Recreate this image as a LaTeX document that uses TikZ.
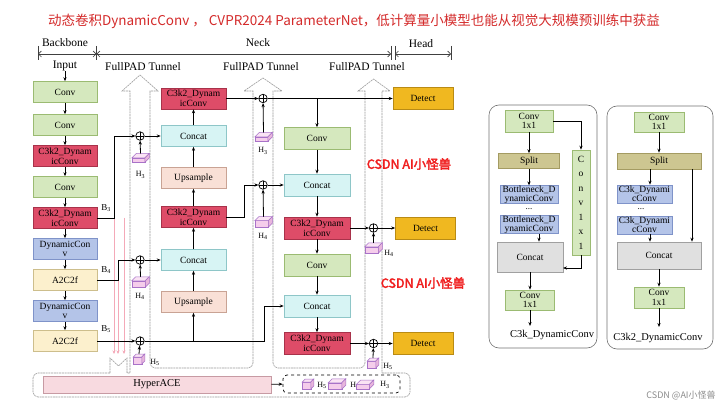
\documentclass[tikz,border=0pt]{standalone}
\usepackage{fontspec}
\setmainfont{Liberation Serif}
\newfontfamily\cjk[AutoFakeBold=2.5]{Noto Sans CJK SC}
\usetikzlibrary{arrows.meta}

\definecolor{convF}{HTML}{D5E8BE}
\definecolor{convD}{HTML}{9BBB72}
\definecolor{redF}{HTML}{DE4C68}
\definecolor{redD}{HTML}{A8324A}
\definecolor{bluF}{HTML}{B4C4E8}
\definecolor{bluD}{HTML}{7F93C9}
\definecolor{yelF}{HTML}{FCF0CD}
\definecolor{yelD}{HTML}{CDBE8C}
\definecolor{cyaF}{HTML}{D7F4F4}
\definecolor{cyaD}{HTML}{8EC6C8}
\definecolor{upsF}{HTML}{F9E0D6}
\definecolor{upsD}{HTML}{C9A394}
\definecolor{detF}{HTML}{F0B820}
\definecolor{detD}{HTML}{B98B14}
\definecolor{splF}{HTML}{CDC691}
\definecolor{splD}{HTML}{A49B62}
\definecolor{gryF}{HTML}{E0E0E0}
\definecolor{gryD}{HTML}{A0A0A0}
\definecolor{hypF}{HTML}{F8DAE0}
\definecolor{hypD}{HTML}{C79AA3}
\definecolor{cubF}{HTML}{F5CDEB}
\definecolor{cubT}{HTML}{FAE3F4}
\definecolor{cubR}{HTML}{E8B6DC}
\definecolor{cubD}{HTML}{A872C8}
\definecolor{titR}{HTML}{D42A2A}
\definecolor{wmR}{HTML}{F01E1E}
\definecolor{pinkL}{HTML}{F4A9B8}
\definecolor{tunG}{HTML}{9A9A9A}

\tikzset{
  bx/.style={draw, line width=0.6pt, inner sep=0pt, align=center, font=\fontsize{9.5}{9.6}\selectfont, minimum height=21pt},
  bbw/.style={bx, minimum width=64pt},
  nkw/.style={bx, minimum width=65pt},
  ctw/.style={bx, minimum width=66pt, minimum height=22pt},
  convbox/.style={fill=convF, draw=convD},
  redbox/.style={fill=redF, draw=redD},
  blubox/.style={fill=bluF, draw=bluD},
  yelbox/.style={fill=yelF, draw=yelD},
  cyabox/.style={fill=cyaF, draw=cyaD},
  upsbox/.style={fill=upsF, draw=upsD},
  detbox/.style={bx, fill=detF, draw=detD, minimum width=60pt, minimum height=22pt},
  splbox/.style={fill=splF, draw=splD},
  grybox/.style={fill=gryF, draw=gryD},
  arr/.style={line width=0.8pt, -{Stealth[length=4pt,width=3.2pt]}},
  pkarr/.style={draw=pinkL, line width=0.7pt, -{Stealth[length=3.5pt,width=3pt]}},
  opl/.style={circle, draw, line width=0.7pt, minimum size=8.5pt, inner sep=0pt,
    path picture={\draw[line width=0.6pt] (path picture bounding box.north) -- (path picture bounding box.south) (path picture bounding box.west) -- (path picture bounding box.east);}},
  hlab/.style={font=\fontsize{8}{8}\selectfont, inner sep=0pt},
  blab/.style={font=\fontsize{9}{9}\selectfont, inner sep=0pt},
  tun/.style={draw=tunG, line width=0.6pt, dash pattern=on 2pt off 0.7pt},
  cubS/.style={draw=cubD, line width=0.5pt, fill=cubF},
  hdr/.style={font=\fontsize{11.5}{12}\selectfont, inner sep=0pt},
  hline/.style={draw=black!75, line width=0.6pt, {Straight Barb[length=3pt,width=6pt]}-{Straight Barb[length=3pt,width=6pt]}},
  panel/.style={draw=black!55, line width=0.6pt, rounded corners=10pt},
  plab/.style={font=\fontsize{10.5}{11}\selectfont, inner sep=0pt},
}

\newcommand{\hcube}[6]{%
  \pgfmathsetmacro\hcX{#2-(#4+#6)/2}%
  \pgfmathsetmacro\hcY{#3+(#5+#6)/2}%
  \filldraw[cubS] (\hcX,\hcY) rectangle ++(#4,-#5);
  \filldraw[cubS,fill=cubT] (\hcX,\hcY-#5) -- ++(#6,-#6) -- ++(#4,0) -- ++(-#6,#6) -- cycle;
  \filldraw[cubS,fill=cubR] (\hcX+#4,\hcY) -- ++(0,-#5) -- ++(#6,-#6) -- ++(0,#5) -- cycle;
  \coordinate (#1) at (#2,\hcY-#5-#6);
}

\begin{document}
\begin{tikzpicture}[x=1pt,y=-1pt]
\useasboundingbox (0,0) rectangle (720,406);
\fill[white] (0,0) rectangle (720,406);

% title
\node[font=\cjk\fontsize{13.5}{14}\selectfont, text=titR, inner sep=0pt] (title) at (354,21) {动态卷积DynamicConv ， CVPR2024 ParameterNet，低计算量小模型也能从视觉大规模预训练中获益};

% header
\node[hdr] (hb) at (65,43) {Backbone};
\node[hdr] (hn) at (258,43) {Neck};
\node[hdr] (hh) at (421,44) {Head};
\coordinate (t1) at (38,54);
\coordinate (t2) at (96.5,54);
\coordinate (t3) at (391,54);
\coordinate (t4) at (395,54);
\coordinate (t5) at (451,54);
\draw[hline] (t1) -- (t2);
\draw[hline] (t2) -- (t3);
\draw[hline] (t4) -- (t5);
\foreach \p in {t1,t2,t3,t4,t5} \draw[black!75, line width=0.6pt] ([yshift=8pt]\p) -- ([yshift=-6pt]\p);

% tunnels and containers
\draw[tun] (110,373) -- (110,358) -- (118.5,366) -- (127,358) -- (127,373) -- (130,373) -- (130,91) -- (122,91) -- (140,75) -- (158,91) -- (150,91) -- (150,300);
\draw[tun, rounded corners=5pt] (150,300) -- (150,368) -- (253,368) -- (253,300);
\draw[tun] (253,300) -- (253,91) -- (244,91) -- (263,78) -- (282,91) -- (273,91) -- (273,300);
\draw[tun, rounded corners=5pt] (273,300) -- (273,368) -- (365,368) -- (365,300);
\draw[tun] (365,300) -- (365,91) -- (358,91) -- (373.5,79) -- (390,91) -- (382,91) -- (382,373);
\draw[tun, rounded corners=5pt] (382,373) -- (410,373) -- (410,397) -- (33,397) -- (33,373) -- (110,373);

\node[hdr] (fp1) at (143,67) {FullPAD Tunnel};
\node[hdr] (fp2) at (261,67) {FullPAD Tunnel};
\node[hdr] (fp3) at (367,67) {FullPAD Tunnel};

% backbone
\node[hdr] (inp) at (65,66) {Input};
\node[bbw,convbox] (b1) at (65,92) {Conv};
\node[bbw,convbox] (b2) at (65,125) {Conv};
\node[bbw,redbox] (b3) at (65,156) {C3k2\_Dynam\\icConv};
\node[bbw,convbox] (b4) at (65,187) {Conv};
\node[bbw,redbox] (b5) at (65,218) {C3k2\_Dynam\\icConv};
\node[bbw,blubox] (b6) at (65,249) {DynamicCon\\v};
\node[bbw,yelbox] (b7) at (65,280) {A2C2f};
\node[bbw,blubox] (b8) at (65,311) {DynamicCon\\v};
\node[bbw,yelbox] (b9) at (65,341) {A2C2f};
\foreach \xa/\xb in {inp/b1,b1/b2,b2/b3,b3/b4,b4/b5,b5/b6,b6/b7,b7/b8,b8/b9} \draw[arr] (\xa) -- (\xb);

% neck column 1
\node[nkw,redbox] (n1) at (193.5,98.5) {C3k2\_Dynam\\icConv};
\node[nkw,cyabox] (n2) at (193.5,136) {Concat};
\node[nkw,upsbox] (n3) at (193.5,178) {Upsample};
\node[nkw,redbox] (n4) at (193.5,217) {C3k2\_Dynam\\icConv};
\node[nkw,cyabox] (n5) at (193.5,260) {Concat};
\node[nkw,upsbox] (n6) at (193.5,302) {Upsample};

% neck column 2
\node[ctw,convbox] (m1) at (317,138.5) {Conv};
\node[ctw,cyabox] (m2) at (317,185) {Concat};
\node[ctw,redbox] (m3) at (317,228) {C3k2\_Dynam\\icConv};
\node[ctw,convbox] (m4) at (317,265) {Conv};
\node[ctw,cyabox] (m5) at (317,306) {Concat};
\node[ctw,redbox] (m6) at (317,343.5) {C3k2\_Dynam\\icConv};

% heads
\node[detbox] (d1) at (423,98.5) {Detect};
\node[detbox] (d2) at (425.5,228) {Detect};
\node[detbox] (d3) at (423,343.5) {Detect};

% fusion points
\node[opl] (pa) at (140,136) {};
\node[opl] (pb) at (140,260) {};
\node[opl] (pc) at (140,341) {};
\node[opl] (pd) at (263,98.5) {};
\node[opl] (pe) at (263,185) {};
\node[opl] (pf) at (373.5,228) {};
\node[opl] (pg) at (373.5,343.5) {};

% pink lines into HyperACE
\coordinate (b3c) at (114,218);
\coordinate (b4c) at (118,280);
\coordinate (pk3s) at (124,218);
\coordinate (pk1e) at (114,354);
\coordinate (pk2e) at (118,354);
\coordinate (pk3e) at (124,354);
\draw[pkarr] (b3c) -- (pk1e);
\draw[pkarr] (b4c) -- (pk2e);
\draw[pkarr] (pk3s) -- (pk3e);

% connectors
\draw[arr] (b5.east) -- (b3c) |- (pa);
\draw[arr] (b7.east) -- (b4c) |- (pb);
\draw[arr] (b9.east) -- (pc);
\node[blab] (lb3) at (106,208) {B\textsubscript{3}};
\node[blab] (lb4) at (106,270) {B\textsubscript{4}};
\node[blab] (lb5) at (106,329) {B\textsubscript{5}};
\draw[arr] (pa) -- (n2);
\draw[arr] (pb) -- (n5);
\coordinate (k1) at (264,341);
\draw[arr] (pc) -- (k1) |- (m5);
\coordinate (k2) at (193.5,341);
\draw[arr] (k2) -- (n6);
\foreach \xa/\xb in {n6/n5,n5/n4,n4/n3,n3/n2,n2/n1} \draw[arr] (\xa) -- (\xb);
\draw[arr] (n1) -- (pd);
\draw[arr] (pd) -- (d1);
\coordinate (k3) at (317,98.5);
\draw[arr] (k3) -- (m1);
\coordinate (k4) at (244,217);
\draw[arr] (n4) -- (k4) |- (pe);
\draw[arr] (pe) -- (m2);
\foreach \xa/\xb in {m1/m2,m2/m3,m3/m4,m4/m5,m5/m6} \draw[arr] (\xa) -- (\xb);
\draw[arr] (m3) -- (pf);
\draw[arr] (pf) -- (d2);
\draw[arr] (m6) -- (pg);
\draw[arr] (pg) -- (d3);

% feature cubes
\hcube{c1}{140.5}{158}{13}{4.5}{4.5}
\node[hlab] (h1) at (140.5,175) {H\textsubscript{3}};
\draw[arr] (c1) -- (pa);
\hcube{c2}{140.5}{282}{13.5}{6.5}{4}
\node[hlab] (h2) at (140,296) {H\textsubscript{4}};
\draw[arr] (c2) -- (pb);
\hcube{c3}{139}{359}{8.5}{7}{3}
\node[hlab] (h3) at (155,362) {H\textsubscript{5}};
\draw[arr] (c3) -- (pc);
\hcube{c4}{263.5}{137}{13}{4.5}{4.5}
\node[hlab] (h4) at (263,151) {H\textsubscript{3}};
\draw[arr] (c4) -- (pd);
\hcube{c5}{263.5}{222}{13.5}{6.5}{4}
\node[hlab] (h5) at (263,236) {H\textsubscript{4}};
\draw[arr] (c5) -- (pe);
\hcube{c6}{373.5}{248}{13.5}{6.5}{4}
\node[hlab] (h6) at (389,253) {H\textsubscript{4}};
\draw[arr] (c6) -- (pf);
\hcube{c7}{373}{363}{8.5}{7}{3}
\node[hlab] (h7) at (388,366) {H\textsubscript{5}};
\draw[arr] (c7) -- (pg);

% HyperACE
\node[bx, fill=hypF, draw=hypD, minimum width=228pt, minimum height=17pt, font=\fontsize{10.5}{11}\selectfont] (hyp) at (157,384.5) {HyperACE};
\node[draw, dashed, rounded corners=4pt, line width=0.7pt, minimum width=117pt, minimum height=18pt, inner sep=0pt] (hbox) at (341.5,384) {};
\draw[arr] (hyp) -- (hbox);
\hcube{c8}{308}{384}{8.5}{7}{3}
\node[hlab] (h8) at (322,385) {H\textsubscript{5}};
\hcube{c9}{337}{384}{13.5}{6.5}{4}
\node[hlab] (h9) at (355,385) {H\textsubscript{4}};
\hcube{c10}{365}{384.5}{13}{4.5}{4.5}
\node[hlab] (h10) at (385,385) {H\textsubscript{3}};

% watermarks
\node[font=\cjk\bfseries\fontsize{12.5}{13}\selectfont, text=wmR, inner sep=0pt] (wm1) at (409,164) {CSDN AI小怪兽};
\node[font=\cjk\bfseries\fontsize{12.5}{13}\selectfont, text=wmR, inner sep=0pt] (wm2) at (423,283) {CSDN AI小怪兽};
\node[font=\cjk\fontsize{9}{9}\selectfont, text=black!45, inner sep=0pt] (wm3) at (681,395) {CSDN @AI小怪兽};

% panel 1: C3k_DynamicConv
\draw[panel] (489,105) rectangle (597,348);
\node[bx,convbox, minimum width=48pt, minimum height=22pt] (p1a) at (529,121) {Conv\\1x1};
\node[bx,splbox, minimum width=61pt, minimum height=15pt] (p1s) at (529,161) {Split};
\node[bx,blubox, minimum width=58pt, minimum height=17pt, font=\fontsize{9.5}{9}\selectfont] (p1b1) at (529,194.5) {Bottleneck\_D\\ynamicConv};
\node[inner sep=0pt, font=\fontsize{9}{9}\selectfont] (p1dots) at (529,209) {...};
\node[bx,blubox, minimum width=58pt, minimum height=17pt, font=\fontsize{9.5}{9}\selectfont] (p1b2) at (529,224.5) {Bottleneck\_D\\ynamicConv};
\node[bx,grybox, minimum width=66pt, minimum height=30pt] (p1c) at (530,257) {Concat};
\node[bx,convbox, minimum width=49pt, minimum height=20pt] (p1d) at (530,300) {Conv\\1x1};
\node[bx,convbox, minimum width=18pt, minimum height=105pt, font=\fontsize{9.5}{14.5}\selectfont] (p1v) at (581,202.5) {C\\o\\n\\v\\1\\x\\1};
\node[plab] (p1l) at (552,335) {C3k\_DynamicConv};
\draw[arr] (p1a) -- (p1s);
\draw[arr] (p1s) -- (p1b1);
\coordinate (x539) at (539,0);
\draw[arr] (p1b2.south -| x539) -- (p1c.north -| x539);
\draw[arr] (p1c) -- (p1d);
\coordinate (p1e) at (530,326);
\draw[arr] (p1d) -- (p1e);
\draw[arr] (p1a.east) -| (p1v.north);
\coordinate (p1cin) at (563,268);
\draw[arr] (p1v.south) |- (p1cin);

% panel 2: C3k2_DynamicConv
\draw[panel] (607,106) rectangle (713,349);
\node[bx,convbox, minimum width=50pt, minimum height=20pt] (p2a) at (659,122) {Conv\\1x1};
\node[bx,splbox, minimum width=84pt, minimum height=16pt] (p2s) at (659,161) {Split};
\node[bx,blubox, minimum width=55pt, minimum height=18pt, font=\fontsize{9.5}{9}\selectfont] (p2b1) at (644.5,194) {C3k\_Dynami\\cConv};
\node[inner sep=0pt, font=\fontsize{9}{9}\selectfont] (p2dots) at (641,209) {...};
\node[bx,blubox, minimum width=55pt, minimum height=18pt, font=\fontsize{9.5}{9}\selectfont] (p2b2) at (644.5,225) {C3k\_Dynami\\cConv};
\node[bx,grybox, minimum width=84pt, minimum height=27pt] (p2c) at (659,255.5) {Concat};
\node[bx,convbox, minimum width=50pt, minimum height=21pt] (p2d) at (659,297.5) {Conv\\1x1};
\node[plab] (p2l) at (658,338) {C3k2\_DynamicConv};
\draw[arr] (p2a) -- (p2s);
\coordinate (x650) at (650,0);
\coordinate (x692) at (692,0);
\draw[arr] (p2s.south -| x650) -- (p2b1.north -| x650);
\draw[arr] (p2b2.south -| x650) -- (p2c.north -| x650);
\draw[arr] (p2s.south -| x692) -- (p2c.north -| x692);
\draw[arr] (p2c) -- (p2d);
\coordinate (p2e) at (659,327);
\draw[arr] (p2d) -- (p2e);
\end{tikzpicture}
\end{document}
